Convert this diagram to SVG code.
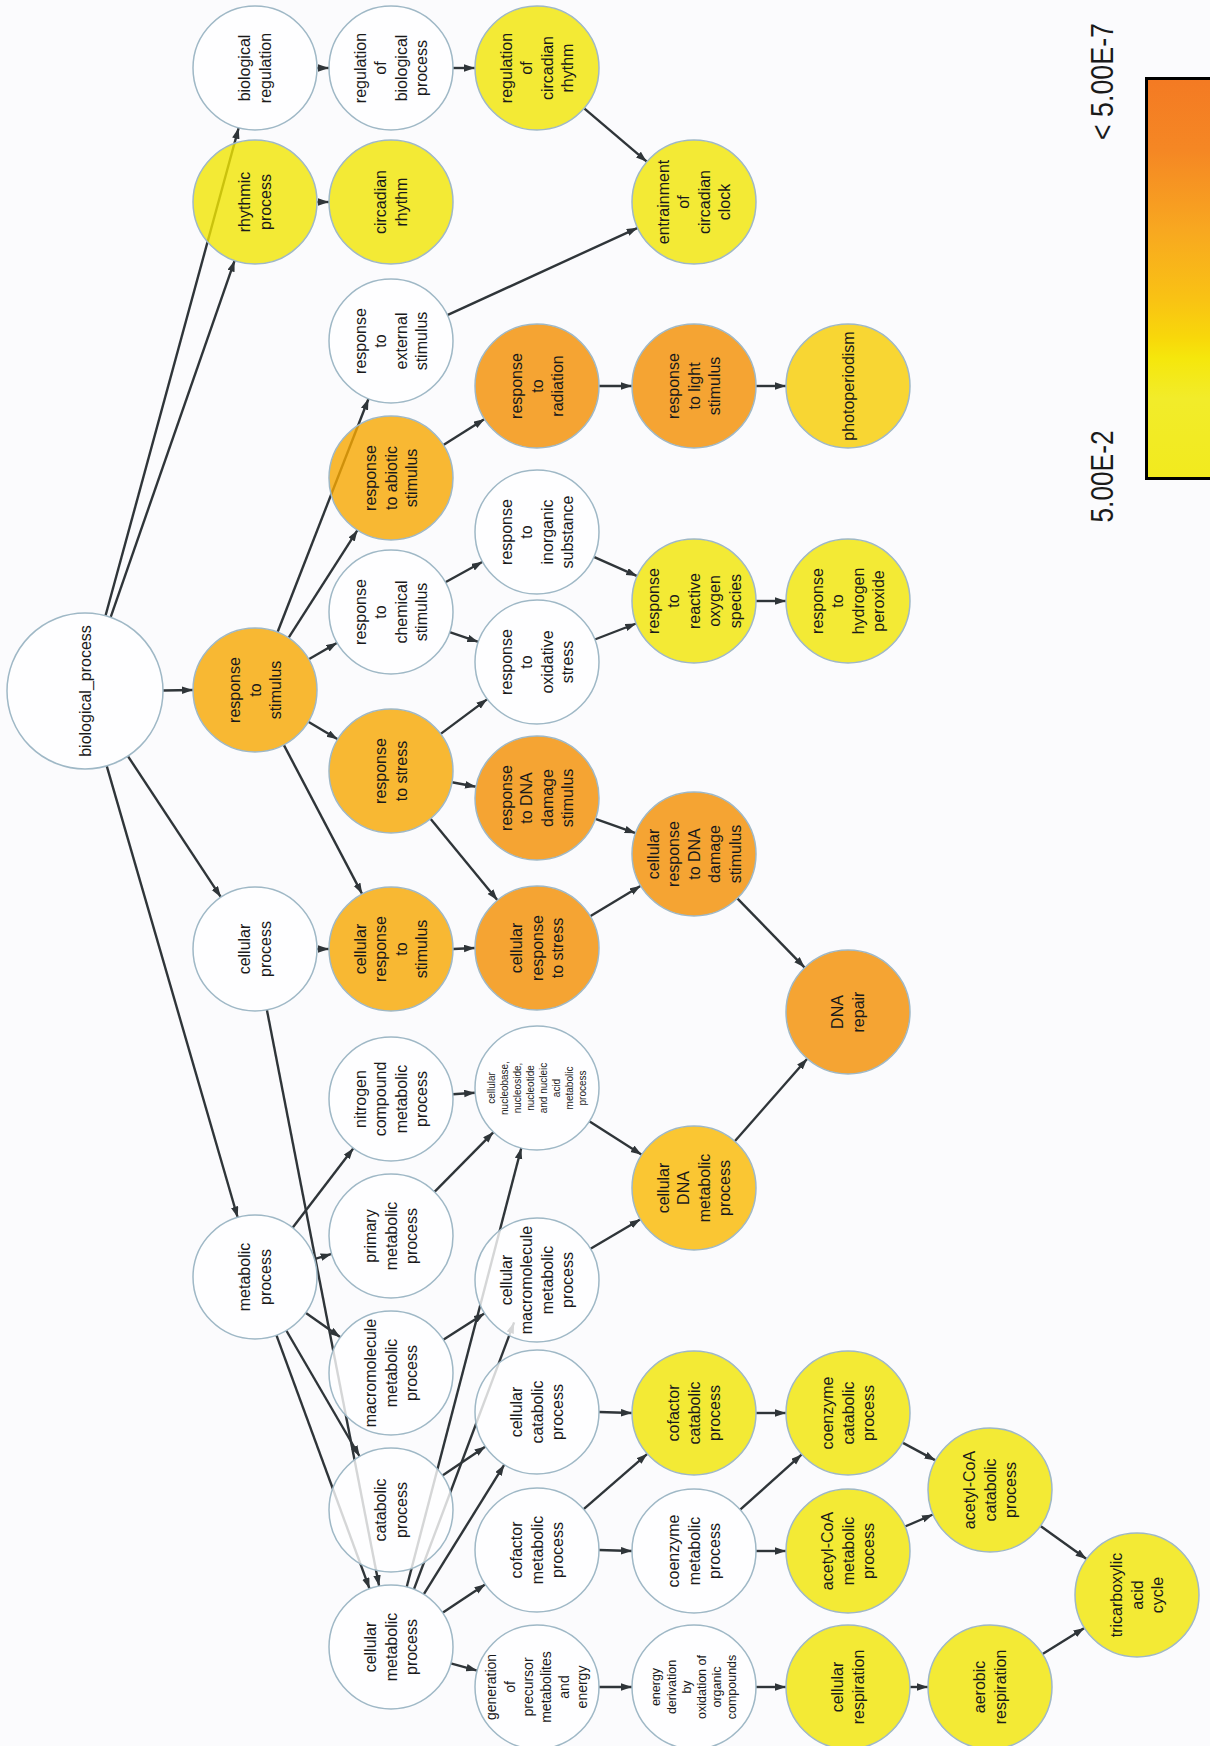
<svg xmlns="http://www.w3.org/2000/svg" width="1210" height="1746" viewBox="0 0 1210 1746">
<style>
.e line{stroke:#2f3539;stroke-width:2.4;marker-end:url(#ah)}
.n circle{stroke:#9fb8c6;stroke-width:1.5;fill-opacity:0.8}
.w{fill:#ffffff}.y{fill:#f1e602}.p{fill:#f8cd00}.c{fill:#fab900}.o1{fill:#f7a700}.o2{fill:#f48e00}
.n text{font-family:"Liberation Sans",Arial,sans-serif;font-size:16px;fill:#1a1a1a;text-anchor:middle}
.n text.s10{font-size:10px}.n text.s14{font-size:14px}.n text.s12{font-size:12.5px}
.lg{font-family:"Liberation Sans",Arial,sans-serif;font-size:31px;fill:#1a1a1a;text-anchor:middle}
</style>
<defs>
<marker id="ah" markerUnits="userSpaceOnUse" markerWidth="11" markerHeight="8" refX="11" refY="3.75" orient="auto"><path d="M0,0 L11,3.75 L0,7.5 z" fill="#2f3539"/></marker>
<linearGradient id="lgr" x1="0" y1="0" x2="0" y2="1">
<stop offset="0" stop-color="#f47a23"/>
<stop offset="0.18" stop-color="#f58724"/>
<stop offset="0.38" stop-color="#f8a820"/>
<stop offset="0.55" stop-color="#f9c214"/>
<stop offset="0.65" stop-color="#f8d80a"/>
<stop offset="0.7" stop-color="#f5e70c"/>
<stop offset="0.8" stop-color="#f2ec2a"/>
<stop offset="1" stop-color="#f2ea1e"/>
</linearGradient>
</defs>
<rect x="0" y="0" width="1210" height="1746" fill="#fbfbfd"/>

<g id="connectors" class="e">
<line x1="105.5" y1="615.8" x2="238.7" y2="127.8"/>
<line x1="110.6" y1="617.3" x2="234.6" y2="260.6"/>
<line x1="163" y1="690.5" x2="193" y2="690"/>
<line x1="127.9" y1="756.1" x2="220.9" y2="897.2"/>
<line x1="106.7" y1="765.9" x2="237.7" y2="1217.5"/>
<line x1="317" y1="68" x2="329" y2="68"/>
<line x1="453" y1="68" x2="475" y2="68"/>
<line x1="584.2" y1="108.3" x2="646.8" y2="161.7"/>
<line x1="317" y1="202" x2="329" y2="202"/>
<line x1="447.3" y1="315.2" x2="637.7" y2="227.8"/>
<line x1="277.5" y1="632.2" x2="368.5" y2="398.8"/>
<line x1="288.5" y1="637.8" x2="357.5" y2="530.2"/>
<line x1="308.8" y1="659.2" x2="337.2" y2="642.8"/>
<line x1="308.3" y1="721.7" x2="337.7" y2="739.3"/>
<line x1="283.8" y1="744.9" x2="362.2" y2="894.1"/>
<line x1="443.4" y1="445" x2="484.6" y2="419"/>
<line x1="599" y1="386" x2="632" y2="386"/>
<line x1="756" y1="386" x2="786" y2="386"/>
<line x1="445.4" y1="582.2" x2="482.6" y2="561.8"/>
<line x1="449.7" y1="632.1" x2="478.3" y2="641.9"/>
<line x1="593.8" y1="556.9" x2="637.2" y2="576.1"/>
<line x1="594.8" y1="639.5" x2="636.2" y2="623.5"/>
<line x1="756" y1="601" x2="786" y2="601"/>
<line x1="440.7" y1="733.9" x2="487.3" y2="699.1"/>
<line x1="452" y1="782.3" x2="476" y2="786.7"/>
<line x1="430.5" y1="818.8" x2="497.5" y2="900.2"/>
<line x1="453" y1="949" x2="475" y2="948"/>
<line x1="590.2" y1="916.2" x2="640.8" y2="885.8"/>
<line x1="595.4" y1="818.8" x2="635.6" y2="833.2"/>
<line x1="737.3" y1="898.4" x2="804.7" y2="967.6"/>
<line x1="317" y1="949" x2="329" y2="949"/>
<line x1="266.9" y1="1009.9" x2="379.1" y2="1586.1"/>
<line x1="292.6" y1="1227.8" x2="353.4" y2="1148.2"/>
<line x1="314.4" y1="1259.1" x2="331.6" y2="1253.9"/>
<line x1="305.6" y1="1312.7" x2="340.4" y2="1337.3"/>
<line x1="286.3" y1="1330.5" x2="359.7" y2="1456.5"/>
<line x1="276.4" y1="1335.2" x2="369.6" y2="1588.8"/>
<line x1="434.5" y1="1191.9" x2="493.5" y2="1132.1"/>
<line x1="452.8" y1="1094.3" x2="475.2" y2="1092.7"/>
<line x1="406.7" y1="1587" x2="521.3" y2="1148"/>
<line x1="443.3" y1="1339.7" x2="484.7" y2="1313.3"/>
<line x1="413.9" y1="1589.4" x2="514.1" y2="1322.4"/>
<line x1="590.5" y1="1248.7" x2="640.5" y2="1219.3"/>
<line x1="589.3" y1="1121.3" x2="641.7" y2="1154.7"/>
<line x1="734.8" y1="1141.3" x2="807.2" y2="1058.7"/>
<line x1="599" y1="1412" x2="632" y2="1413"/>
<line x1="583.7" y1="1509.2" x2="647.3" y2="1453.8"/>
<line x1="599" y1="1550" x2="632" y2="1551"/>
<line x1="740.2" y1="1509.6" x2="801.8" y2="1454.4"/>
<line x1="756" y1="1551" x2="786" y2="1551"/>
<line x1="756" y1="1413" x2="786" y2="1413"/>
<line x1="902.5" y1="1442.6" x2="935.5" y2="1460.4"/>
<line x1="905" y1="1526.5" x2="933" y2="1514.5"/>
<line x1="1040.5" y1="1526" x2="1086.5" y2="1559"/>
<line x1="1042.6" y1="1654.1" x2="1084.4" y2="1627.9"/>
<line x1="910" y1="1687" x2="928" y2="1687"/>
<line x1="599" y1="1687" x2="632" y2="1687"/>
<line x1="756" y1="1687" x2="786" y2="1687"/>
<line x1="442.5" y1="1475.4" x2="485.5" y2="1446.6"/>
<line x1="423.7" y1="1594.3" x2="504.3" y2="1464.7"/>
<line x1="442.6" y1="1612.7" x2="485.4" y2="1584.3"/>
<line x1="450.8" y1="1663.4" x2="477.2" y2="1670.6"/>
</g>

<g id="n-biological_process" class="n"><circle cx="85" cy="691" r="78" class="w"/><text transform="translate(85,691) rotate(-90)"><tspan x="0" y="5.6">biological_process</tspan></text></g>

<g id="n-biological_regulation" class="n"><circle cx="255" cy="68" r="62" class="w"/><text transform="translate(255,68) rotate(-90)"><tspan x="0" y="-4.65">biological</tspan><tspan x="0" y="15.85">regulation</tspan></text></g>
<g id="n-rhythmic_process" class="n"><circle cx="255" cy="202" r="62" class="y"/><text transform="translate(255,202) rotate(-90)"><tspan x="0" y="-4.65">rhythmic</tspan><tspan x="0" y="15.85">process</tspan></text></g>
<g id="n-response_to_stimulus" class="n"><circle cx="255" cy="690" r="62" class="o1"/><text transform="translate(255,690) rotate(-90)"><tspan x="0" y="-14.9">response</tspan><tspan x="0" y="5.6">to</tspan><tspan x="0" y="26.1">stimulus</tspan></text></g>
<g id="n-cellular_process" class="n"><circle cx="255" cy="949" r="62" class="w"/><text transform="translate(255,949) rotate(-90)"><tspan x="0" y="-4.65">cellular</tspan><tspan x="0" y="15.85">process</tspan></text></g>
<g id="n-metabolic_process" class="n"><circle cx="255" cy="1277" r="62" class="w"/><text transform="translate(255,1277) rotate(-90)"><tspan x="0" y="-4.65">metabolic</tspan><tspan x="0" y="15.85">process</tspan></text></g>

<g id="n-regulation_of_biological_process" class="n"><circle cx="391" cy="68" r="62" class="w"/><text transform="translate(391,68) rotate(-90)"><tspan x="0" y="-25.15">regulation</tspan><tspan x="0" y="-4.65">of</tspan><tspan x="0" y="15.85">biological</tspan><tspan x="0" y="36.35">process</tspan></text></g>
<g id="n-circadian_rhythm" class="n"><circle cx="391" cy="202" r="62" class="y"/><text transform="translate(391,202) rotate(-90)"><tspan x="0" y="-4.65">circadian</tspan><tspan x="0" y="15.85">rhythm</tspan></text></g>
<g id="n-response_to_external_stimulus" class="n"><circle cx="391" cy="341" r="62" class="w"/><text transform="translate(391,341) rotate(-90)"><tspan x="0" y="-25.15">response</tspan><tspan x="0" y="-4.65">to</tspan><tspan x="0" y="15.85">external</tspan><tspan x="0" y="36.35">stimulus</tspan></text></g>
<g id="n-response_to_abiotic_stimulus" class="n"><circle cx="391" cy="478" r="62" class="o1"/><text transform="translate(391,478) rotate(-90)"><tspan x="0" y="-14.9">response</tspan><tspan x="0" y="5.6">to abiotic</tspan><tspan x="0" y="26.1">stimulus</tspan></text></g>
<g id="n-response_to_chemical_stimulus" class="n"><circle cx="391" cy="612" r="62" class="w"/><text transform="translate(391,612) rotate(-90)"><tspan x="0" y="-25.15">response</tspan><tspan x="0" y="-4.65">to</tspan><tspan x="0" y="15.85">chemical</tspan><tspan x="0" y="36.35">stimulus</tspan></text></g>
<g id="n-response_to_stress" class="n"><circle cx="391" cy="771" r="62" class="o1"/><text transform="translate(391,771) rotate(-90)"><tspan x="0" y="-4.65">response</tspan><tspan x="0" y="15.85">to stress</tspan></text></g>
<g id="n-cellular_response_to_stimulus" class="n"><circle cx="391" cy="949" r="62" class="o1"/><text transform="translate(391,949) rotate(-90)"><tspan x="0" y="-25.15">cellular</tspan><tspan x="0" y="-4.65">response</tspan><tspan x="0" y="15.85">to</tspan><tspan x="0" y="36.35">stimulus</tspan></text></g>
<g id="n-nitrogen_compound_metabolic_process" class="n"><circle cx="391" cy="1099" r="62" class="w"/><text transform="translate(391,1099) rotate(-90)"><tspan x="0" y="-25.15">nitrogen</tspan><tspan x="0" y="-4.65">compound</tspan><tspan x="0" y="15.85">metabolic</tspan><tspan x="0" y="36.35">process</tspan></text></g>
<g id="n-primary_metabolic_process" class="n"><circle cx="391" cy="1236" r="62" class="w"/><text transform="translate(391,1236) rotate(-90)"><tspan x="0" y="-14.9">primary</tspan><tspan x="0" y="5.6">metabolic</tspan><tspan x="0" y="26.1">process</tspan></text></g>
<g id="n-macromolecule_metabolic_process" class="n"><circle cx="391" cy="1373" r="62" class="w"/><text transform="translate(391,1373) rotate(-90)"><tspan x="0" y="-14.9">macromolecule</tspan><tspan x="0" y="5.6">metabolic</tspan><tspan x="0" y="26.1">process</tspan></text></g>
<g id="n-catabolic_process" class="n"><circle cx="391" cy="1510" r="62" class="w"/><text transform="translate(391,1510) rotate(-90)"><tspan x="0" y="-4.65">catabolic</tspan><tspan x="0" y="15.85">process</tspan></text></g>
<g id="n-cellular_metabolic_process" class="n"><circle cx="391" cy="1647" r="62" class="w"/><text transform="translate(391,1647) rotate(-90)"><tspan x="0" y="-14.9">cellular</tspan><tspan x="0" y="5.6">metabolic</tspan><tspan x="0" y="26.1">process</tspan></text></g>

<g id="n-regulation_of_circadian_rhythm" class="n"><circle cx="537" cy="68" r="62" class="y"/><text transform="translate(537,68) rotate(-90)"><tspan x="0" y="-25.15">regulation</tspan><tspan x="0" y="-4.65">of</tspan><tspan x="0" y="15.85">circadian</tspan><tspan x="0" y="36.35">rhythm</tspan></text></g>
<g id="n-response_to_radiation" class="n"><circle cx="537" cy="386" r="62" class="o2"/><text transform="translate(537,386) rotate(-90)"><tspan x="0" y="-14.9">response</tspan><tspan x="0" y="5.6">to</tspan><tspan x="0" y="26.1">radiation</tspan></text></g>
<g id="n-response_to_inorganic_substance" class="n"><circle cx="537" cy="532" r="62" class="w"/><text transform="translate(537,532) rotate(-90)"><tspan x="0" y="-25.15">response</tspan><tspan x="0" y="-4.65">to</tspan><tspan x="0" y="15.85">inorganic</tspan><tspan x="0" y="36.35">substance</tspan></text></g>
<g id="n-response_to_oxidative_stress" class="n"><circle cx="537" cy="662" r="62" class="w"/><text transform="translate(537,662) rotate(-90)"><tspan x="0" y="-25.15">response</tspan><tspan x="0" y="-4.65">to</tspan><tspan x="0" y="15.85">oxidative</tspan><tspan x="0" y="36.35">stress</tspan></text></g>
<g id="n-response_to_DNA_damage_stimulus" class="n"><circle cx="537" cy="798" r="62" class="o2"/><text transform="translate(537,798) rotate(-90)"><tspan x="0" y="-25.15">response</tspan><tspan x="0" y="-4.65">to DNA</tspan><tspan x="0" y="15.85">damage</tspan><tspan x="0" y="36.35">stimulus</tspan></text></g>
<g id="n-cellular_response_to_stress" class="n"><circle cx="537" cy="948" r="62" class="o2"/><text transform="translate(537,948) rotate(-90)"><tspan x="0" y="-14.9">cellular</tspan><tspan x="0" y="5.6">response</tspan><tspan x="0" y="26.1">to stress</tspan></text></g>
<g id="n-cellular_nucleobase_metabolic_process" class="n"><circle cx="537" cy="1088" r="62" class="w"/><text class="s10" transform="translate(537,1088) rotate(-90)"><tspan x="0" y="-42">cellular</tspan><tspan x="0" y="-29">nucleobase,</tspan><tspan x="0" y="-16">nucleoside,</tspan><tspan x="0" y="-3">nucleotide</tspan><tspan x="0" y="10">and nucleic</tspan><tspan x="0" y="23">acid</tspan><tspan x="0" y="36">metabolic</tspan><tspan x="0" y="49">process</tspan></text></g>
<g id="n-cellular_macromolecule_metabolic_process" class="n"><circle cx="537" cy="1280" r="62" class="w"/><text transform="translate(537,1280) rotate(-90)"><tspan x="0" y="-25.15">cellular</tspan><tspan x="0" y="-4.65">macromolecule</tspan><tspan x="0" y="15.85">metabolic</tspan><tspan x="0" y="36.35">process</tspan></text></g>
<g id="n-cellular_catabolic_process" class="n"><circle cx="537" cy="1412" r="62" class="w"/><text transform="translate(537,1412) rotate(-90)"><tspan x="0" y="-14.9">cellular</tspan><tspan x="0" y="5.6">catabolic</tspan><tspan x="0" y="26.1">process</tspan></text></g>
<g id="n-cofactor_metabolic_process" class="n"><circle cx="537" cy="1550" r="62" class="w"/><text transform="translate(537,1550) rotate(-90)"><tspan x="0" y="-14.9">cofactor</tspan><tspan x="0" y="5.6">metabolic</tspan><tspan x="0" y="26.1">process</tspan></text></g>
<g id="n-generation_of_precursor_metabolites_and_energy" class="n"><circle cx="537" cy="1687" r="62" class="w"/><text class="s14" transform="translate(537,1687) rotate(-90)"><tspan x="0" y="-40.6">generation</tspan><tspan x="0" y="-22.4">of</tspan><tspan x="0" y="-4.2">precursor</tspan><tspan x="0" y="14">metabolites</tspan><tspan x="0" y="32.2">and</tspan><tspan x="0" y="50.4">energy</tspan></text></g>

<g id="n-entrainment_of_circadian_clock" class="n"><circle cx="694" cy="202" r="62" class="y"/><text transform="translate(694,202) rotate(-90)"><tspan x="0" y="-25.15">entrainment</tspan><tspan x="0" y="-4.65">of</tspan><tspan x="0" y="15.85">circadian</tspan><tspan x="0" y="36.35">clock</tspan></text></g>
<g id="n-response_to_light_stimulus" class="n"><circle cx="694" cy="386" r="62" class="o2"/><text transform="translate(694,386) rotate(-90)"><tspan x="0" y="-14.9">response</tspan><tspan x="0" y="5.6">to light</tspan><tspan x="0" y="26.1">stimulus</tspan></text></g>
<g id="n-response_to_reactive_oxygen_species" class="n"><circle cx="694" cy="601" r="62" class="y"/><text transform="translate(694,601) rotate(-90)"><tspan x="0" y="-35.4">response</tspan><tspan x="0" y="-14.9">to</tspan><tspan x="0" y="5.6">reactive</tspan><tspan x="0" y="26.1">oxygen</tspan><tspan x="0" y="46.6">species</tspan></text></g>
<g id="n-cellular_response_to_DNA_damage_stimulus" class="n"><circle cx="694" cy="854" r="62" class="o2"/><text transform="translate(694,854) rotate(-90)"><tspan x="0" y="-35.4">cellular</tspan><tspan x="0" y="-14.9">response</tspan><tspan x="0" y="5.6">to DNA</tspan><tspan x="0" y="26.1">damage</tspan><tspan x="0" y="46.6">stimulus</tspan></text></g>
<g id="n-cellular_DNA_metabolic_process" class="n"><circle cx="694" cy="1188" r="62" class="c"/><text transform="translate(694,1188) rotate(-90)"><tspan x="0" y="-25.15">cellular</tspan><tspan x="0" y="-4.65">DNA</tspan><tspan x="0" y="15.85">metabolic</tspan><tspan x="0" y="36.35">process</tspan></text></g>
<g id="n-cofactor_catabolic_process" class="n"><circle cx="694" cy="1413" r="62" class="y"/><text transform="translate(694,1413) rotate(-90)"><tspan x="0" y="-14.9">cofactor</tspan><tspan x="0" y="5.6">catabolic</tspan><tspan x="0" y="26.1">process</tspan></text></g>
<g id="n-coenzyme_metabolic_process" class="n"><circle cx="694" cy="1551" r="62" class="w"/><text transform="translate(694,1551) rotate(-90)"><tspan x="0" y="-14.9">coenzyme</tspan><tspan x="0" y="5.6">metabolic</tspan><tspan x="0" y="26.1">process</tspan></text></g>
<g id="n-energy_derivation_by_oxidation_of_organic_compounds" class="n"><circle cx="694" cy="1687" r="62" class="w"/><text class="s12" transform="translate(694,1687) rotate(-90)"><tspan x="0" y="-33.6">energy</tspan><tspan x="0" y="-18.4">derivation</tspan><tspan x="0" y="-3.2">by</tspan><tspan x="0" y="12">oxidation of</tspan><tspan x="0" y="27.2">organic</tspan><tspan x="0" y="42.4">compounds</tspan></text></g>

<g id="n-photoperiodism" class="n"><circle cx="848" cy="386" r="62" class="p"/><text transform="translate(848,386) rotate(-90)"><tspan x="0" y="5.6">photoperiodism</tspan></text></g>
<g id="n-response_to_hydrogen_peroxide" class="n"><circle cx="848" cy="601" r="62" class="y"/><text transform="translate(848,601) rotate(-90)"><tspan x="0" y="-25.15">response</tspan><tspan x="0" y="-4.65">to</tspan><tspan x="0" y="15.85">hydrogen</tspan><tspan x="0" y="36.35">peroxide</tspan></text></g>
<g id="n-DNA_repair" class="n"><circle cx="848" cy="1012" r="62" class="o2"/><text transform="translate(848,1012) rotate(-90)"><tspan x="0" y="-4.65">DNA</tspan><tspan x="0" y="15.85">repair</tspan></text></g>
<g id="n-coenzyme_catabolic_process" class="n"><circle cx="848" cy="1413" r="62" class="y"/><text transform="translate(848,1413) rotate(-90)"><tspan x="0" y="-14.9">coenzyme</tspan><tspan x="0" y="5.6">catabolic</tspan><tspan x="0" y="26.1">process</tspan></text></g>
<g id="n-acetyl-CoA_metabolic_process" class="n"><circle cx="848" cy="1551" r="62" class="y"/><text transform="translate(848,1551) rotate(-90)"><tspan x="0" y="-14.9">acetyl-CoA</tspan><tspan x="0" y="5.6">metabolic</tspan><tspan x="0" y="26.1">process</tspan></text></g>
<g id="n-cellular_respiration" class="n"><circle cx="848" cy="1687" r="62" class="y"/><text transform="translate(848,1687) rotate(-90)"><tspan x="0" y="-4.65">cellular</tspan><tspan x="0" y="15.85">respiration</tspan></text></g>

<g id="n-acetyl-CoA_catabolic_process" class="n"><circle cx="990" cy="1490" r="62" class="y"/><text transform="translate(990,1490) rotate(-90)"><tspan x="0" y="-14.9">acetyl-CoA</tspan><tspan x="0" y="5.6">catabolic</tspan><tspan x="0" y="26.1">process</tspan></text></g>
<g id="n-aerobic_respiration" class="n"><circle cx="990" cy="1687" r="62" class="y"/><text transform="translate(990,1687) rotate(-90)"><tspan x="0" y="-4.65">aerobic</tspan><tspan x="0" y="15.85">respiration</tspan></text></g>
<g id="n-tricarboxylic_acid_cycle" class="n"><circle cx="1137" cy="1595" r="62" class="y"/><text transform="translate(1137,1595) rotate(-90)"><tspan x="0" y="-14.9">tricarboxylic</tspan><tspan x="0" y="5.6">acid</tspan><tspan x="0" y="26.1">cycle</tspan></text></g>

<g id="legend">
<rect x="1146.5" y="78.5" width="80" height="400" fill="url(#lgr)" stroke="#000" stroke-width="3"/>
<text class="lg" transform="translate(1113,81.5) rotate(-90)" textLength="117" lengthAdjust="spacingAndGlyphs">&lt; 5.00E-7</text>
<text class="lg" transform="translate(1113,476.5) rotate(-90)" textLength="92" lengthAdjust="spacingAndGlyphs">5.00E-2</text>
</g>
</svg>
